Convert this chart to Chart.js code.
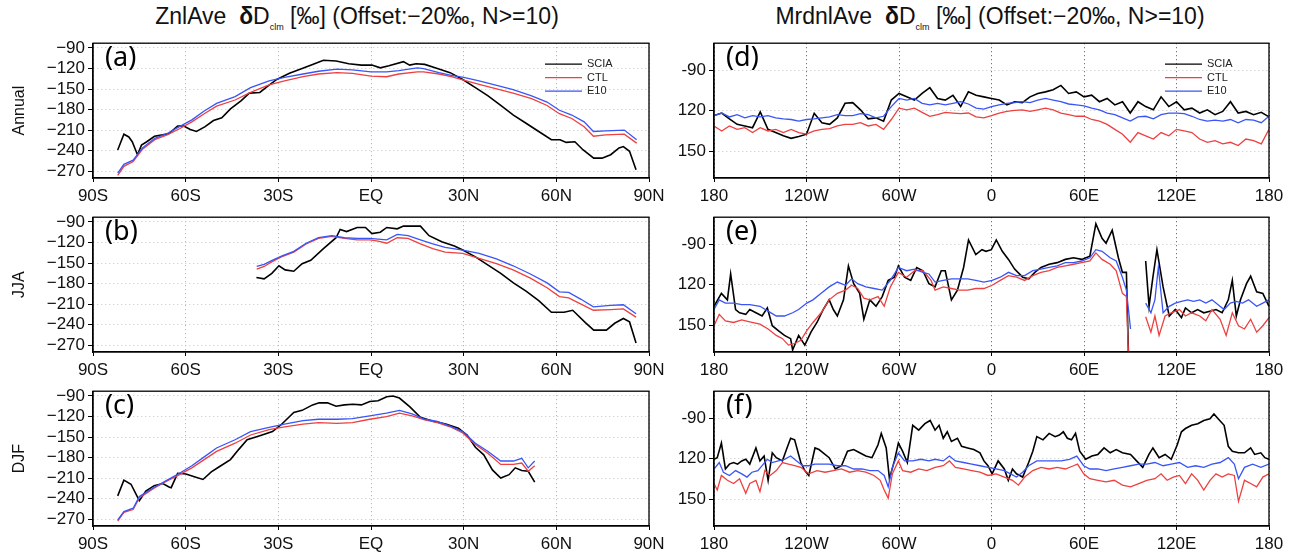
<!DOCTYPE html>
<html>
<head>
<meta charset="utf-8">
<script src="https://cdn.jsdelivr.net/npm/chart.js@4.4.1/dist/chart.umd.min.js"></script>
<style>
  body { margin: 0; background: #fff; width: 1296px; height: 555px; position: relative; overflow: hidden; }
  canvas { position: absolute; }
  .ttl { position: absolute; top: 3px; font: 23px 'Liberation Sans', sans-serif; white-space: nowrap; transform: translateX(-50%); color: #111; }
  .ttl sub { font-size: 9px; }
</style>
</head>
<body>
<div class="ttl" style="left:357px">ZnlAve&nbsp; <b>δ</b>D<sub>clm</sub> [‰] (Offset:−20‰, N&gt;=10)</div>
<div class="ttl" style="left:990px">MrdnlAve&nbsp; <b>δ</b>D<sub>clm</sub> [‰] (Offset:−20‰, N&gt;=10)</div>

<canvas id="pa" width="670" height="175" style="left:0;top:30px"></canvas>
<canvas id="pb" width="670" height="175" style="left:0;top:204px"></canvas>
<canvas id="pc" width="670" height="175" style="left:0;top:378px"></canvas>
<canvas id="pd" width="646" height="175" style="left:650px;top:30px"></canvas>
<canvas id="pe" width="646" height="175" style="left:650px;top:204px"></canvas>
<canvas id="pf" width="646" height="175" style="left:650px;top:378px"></canvas>

<script>
// ---- axis ticks / labels ----
const xTicksLeft  = [-90, -60, -30, 0, 30, 60, 90];
const xLabelsLeft = ['90S', '60S', '30S', 'EQ', '30N', '60N', '90N'];
const yTicksLeft  = [-90, -120, -150, -180, -210, -240, -270];
const yLabelsLeft = ['−90', '−120', '−150', '−180', '−210', '−240', '−270'];

const xTicksRight  = [-180, -120, -60, 0, 60, 120, 180];
const xLabelsRight = ['180', '120W', '60W', '0', '60E', '120E', '180'];
const yTicksRight  = [-90, -120, -150];
const yLabelsRight = ['-90', '120', '150'];

// ---- (a) zonal mean, annual ----
const latSciaA = [-82,-80,-78.4,-77.3,-75.6,-74.3,-72.6,-70.1,-67.4,-65.4,-62.6,-60.6,-58.5,-56.5,-53.7,-51,-48.3,-45.5,-42,-39.4,-36,-33.2,-30.5,-26.4,-22.3,-18.9,-15.4,-11.3,-7.2,-3.1,0.3,3,5.8,10.5,12.5,14.6,17.4,21.5,25.6,29.7,33.8,37.9,42,46.1,50.2,54.3,58.4,61.2,63.2,66,68.7,72.1,74.8,77.6,80.3,81.7,83.7,85.8];
const sciaA = [-239,-216,-220,-227,-246,-232,-227,-219,-217,-215,-204,-204,-209,-212,-205,-196,-192,-179,-167,-156,-155,-145,-136,-127,-120,-114,-108,-109,-113,-115,-115,-119,-116,-110,-115,-113,-114,-120,-126,-136,-148,-160,-174,-188,-200,-212,-224,-224,-228,-227,-239,-251,-251,-246,-236,-234,-241,-268];
const latModA = [-82,-80,-77,-74,-70,-66,-62,-58,-54,-50,-44,-39,-33,-28,-22,-17,-11,-6,0,5,9,15,17,22,26,30,35,41,46,52,57,61,65,69,72,76,82,86];
const ctlA = [-276,-263,-256,-238,-224,-217,-208,-198,-186,-175,-166,-155,-144,-138,-132,-128,-126,-127,-131,-132,-128,-125,-125,-128,-132,-137,-143,-150,-156,-164,-174,-186,-193,-205,-219,-217,-216,-229];
const e10A = [-273,-260,-254,-236,-222,-215,-205,-195,-182,-171,-161,-148,-138,-133,-128,-124,-121,-122,-125,-125,-123,-119,-120,-126,-130,-133,-138,-145,-151,-160,-169,-181,-188,-198,-212,-211,-210,-224];

// ---- (b) zonal mean, JJA ----
const latSciaB = [-37.1,-34.6,-32.1,-29.8,-27.8,-25,-22.3,-19.5,-15.4,-11.3,-10,-7.9,-4.5,-1.8,0.3,3,5.1,8.5,10.5,14.6,16,18.8,22.9,27,29.7,33.8,37.9,42,46.1,50.2,54.3,58.4,62.5,65.3,69.4,72.1,76.2,78.9,81.7,83.7,85.8];
const sciaB = [-171,-173,-165,-154,-160,-162,-151,-146,-129,-113,-101,-104,-98,-98,-107,-105,-98,-100,-96,-96,-96,-110,-119,-125,-131,-141,-153,-165,-179,-191,-205,-222,-222,-219,-237,-248,-248,-238,-231,-236,-267];
const latModB = [-37,-34.6,-32,-29,-25,-21,-17,-12.7,-8.6,-4.5,-0.4,2.3,5.1,8.5,12,16,20,24,29.7,35,40.6,46,51.6,57,61,64,68,72,77.6,81.7,85.8];
const ctlB = [-159,-155,-148,-141,-134,-122,-114,-111,-114,-116,-116,-118,-121,-113,-114,-122,-129,-134,-136,-143,-151,-160,-172,-186,-199,-201,-210,-219,-218,-217,-229];
const e10B = [-155,-152,-146,-140,-133,-121,-113,-110,-113,-114,-114,-115,-116,-108,-110,-116,-122,-127,-131,-136,-144,-154,-166,-179,-192,-193,-203,-214,-212,-211,-224];

// ---- (c) zonal mean, DJF ----
const latSciaC = [-82,-80,-77.7,-75,-72.9,-70.2,-67.4,-65.4,-64.7,-62.6,-59.9,-57.2,-54.4,-51.7,-49,-45.5,-42.8,-40.1,-36,-31.9,-29.1,-25,-22.3,-18.9,-16.8,-14.1,-11.3,-8.6,-5.9,-3.1,-0.4,2.3,5.1,7.1,9.2,12.6,16,20.1,24.2,28.3,31.1,33.8,36.5,39.3,42,44.7,46.7,48.8,50.9,53];
const sciaC = [-236,-213,-219,-243,-229,-221,-218,-223,-224,-203,-204,-208,-212,-201,-193,-183,-168,-154,-148,-142,-132,-114,-111,-103,-100,-100,-105,-103,-102,-103,-98,-97,-91,-90,-93,-106,-121,-127,-131,-137,-147,-165,-176,-198,-210,-205,-195,-199,-200,-216];
const latModC = [-82,-80,-77,-75,-70,-66,-62,-58,-54,-50,-44,-39,-33,-28,-22,-17,-11,-6,-0.4,5,9.2,13.3,17.4,21.5,25.6,29.7,33.8,37.9,42,46.1,48.8,50.9,53];
const ctlC = [-273,-260,-256,-239,-224,-214,-205,-195,-183,-171,-159,-147,-139,-135,-131,-129,-130,-129,-124,-120,-115,-119,-125,-129,-135,-144,-161,-174,-190,-190,-188,-200,-192];
const e10C = [-271,-259,-254,-237,-223,-213,-203,-192,-179,-166,-154,-142,-136,-131,-126,-124,-124,-123,-119,-115,-111,-116,-124,-127,-134,-142,-159,-171,-185,-185,-181,-195,-185];

// ---- (d) meridional mean, annual ----
const lonD = [-180,-175,-170,-165,-160,-155,-150,-145,-140,-135,-130,-125,-120,-115,-110,-105,-100,-95,-90,-85,-80,-75,-70,-65,-60,-55,-50,-45,-40,-35,-30,-25,-20,-15,-10,-5,0,5,10,15,20,25,30,35,40,45,50,55,60,65,70,75,80,85,90,95,100,105,110,115,120,125,130,135,140,145,150,155,160,165,170,175,180];
const sciaD = [-123.7,-121.8,-126.1,-130.2,-131.4,-132.7,-121,-133.9,-136.3,-138.7,-140.6,-139.2,-137.5,-122,-129,-130.2,-125.4,-114.6,-114.1,-119.4,-126.1,-125.4,-127.8,-112.2,-107.3,-109.8,-112.2,-107.3,-103,-111,-112.2,-108.6,-117,-106.1,-108.6,-109.8,-111,-112.2,-115.8,-113.4,-114.1,-109.8,-107.3,-106.1,-104.5,-101.3,-107.3,-106.1,-109.8,-108.6,-113.4,-111,-115.8,-113.4,-121.8,-113.4,-117,-119.4,-109.8,-117,-113.4,-119.4,-118.2,-121.8,-119.4,-123,-120.6,-113.4,-121.8,-120.6,-123,-121.3,-124.7];
const ctlD = [-131.4,-135.1,-131.4,-133.9,-132.7,-136.3,-132.7,-135.1,-133.9,-136.3,-133.9,-136.3,-137.5,-135.1,-133.9,-133.4,-131.4,-130.2,-130.2,-129,-131.4,-130.2,-133.9,-126.6,-118.2,-119.4,-118.2,-121.3,-124.2,-123,-121.3,-121.8,-122.3,-121.8,-124.7,-125.4,-123.7,-121.8,-120.6,-119.9,-119.4,-120.6,-119.4,-118.2,-119.4,-121.8,-123,-124.2,-124.2,-126.6,-127.8,-130.2,-133.9,-137.5,-143.5,-136.3,-138.7,-141.1,-136.3,-138.7,-133.9,-135.1,-136.3,-141.1,-143.5,-142.3,-144.7,-143.5,-145.9,-141.1,-142.3,-144.7,-133.9];
const e10D = [-123.7,-121.8,-124.7,-123,-125.4,-123.7,-124.7,-123.7,-125.4,-126.1,-126.6,-127.8,-126.6,-126.1,-125.4,-124.7,-123,-123.7,-123.7,-122.3,-123,-125.4,-124.2,-117,-111,-112.2,-111,-114.6,-115.8,-114.6,-115.8,-114.6,-113.4,-115.1,-118.2,-118.9,-117,-115.8,-114.6,-114.1,-113.4,-114.1,-112.2,-111,-112.2,-113.4,-115.1,-115.8,-116.5,-118.2,-119.4,-121.8,-123,-125.4,-127.8,-124.7,-124.2,-126.1,-123,-121.8,-121.8,-122.3,-124.2,-126.6,-127.8,-127.1,-127.8,-126.6,-129,-126.6,-127.1,-129,-124.2];

// ---- (e) meridional mean, JJA (null = no data) ----
const lonSciaE = [-180,-175.2,-171.3,-169.2,-166,-163.4,-159.4,-156.8,-152.8,-148.8,-145.4,-142.2,-138.3,-134.3,-130.3,-129,-125.1,-121.1,-117.1,-113.2,-109.2,-105.3,-102.6,-100,-96,-92.8,-89.4,-85.5,-82.8,-78.9,-74.9,-70.9,-67,-63,-60.4,-56.4,-52.4,-48.5,-44.5,-40.6,-36.6,-32.6,-30,-26,-22.1,-18.1,-14.9,-10.2,-6.2,-3.6,-0.1,3.1,7,11,15,20.2,24.2,28.1,32.1,37.4,42.6,47.9,53.2,58.5,63.8,67.7,71.7,74.3,78.3,82.3,84.9,87.5,88.9,94,100,102.2,104.7,107.3,111.3,115.3,119.2,123.2,125.8,129.8,133.7,137.7,141.7,145.6,149.6,153.6,156.2,158.8,161.5,165.4,168.1,172,176,180];
const sciaE = [-136.1,-126.5,-131.3,-112.1,-138.5,-140.9,-142.1,-138.5,-140.9,-143.3,-137.3,-150.5,-154.1,-157.7,-160.1,-168.5,-157.7,-164.9,-155.3,-148.1,-138.5,-131.3,-138.5,-143.3,-131.3,-106.1,-119.3,-126.5,-145.7,-131.3,-136.1,-128.9,-116.9,-114.5,-106.1,-114.5,-116.9,-107.3,-109.7,-119.3,-121.7,-109.7,-109.7,-131.3,-124.1,-107.3,-86.9,-97.7,-94.1,-95.3,-94.1,-86.9,-95.3,-101.3,-108.5,-114.5,-115.7,-110.9,-107.3,-104.9,-103.7,-101.3,-100.1,-101.3,-98.9,-74.9,-85.7,-89.3,-79.7,-100.1,-110.9,-110.9,-174.5,null,-102.5,-136.1,-114.5,-94.1,-121.7,-143.3,-138.5,-144.5,-137.3,-140.9,-138.5,-140.9,-139.7,-138.5,-140.9,-131.3,-116.9,-143.3,-131.3,-119.3,-113.8,-125.3,-126.5,-136.1];
const lonCtlE = [-180,-176.6,-172.6,-167.3,-162,-156.8,-150.2,-144.9,-139.6,-135.6,-131.7,-127.7,-123.7,-119.8,-115.8,-110.5,-105.3,-100,-94.7,-90.7,-86.8,-82.8,-78.9,-73.6,-69.6,-65.6,-60.4,-55.1,-49.8,-44.5,-39.2,-36.6,-31.3,-26,-20.7,-15.4,-10.2,-4.9,0.4,5.7,11,16.2,21.5,26.8,32.1,37.4,42.6,47.9,53.2,58.5,63.8,67.7,71.7,77,80.9,84.9,87.5,88.9,94,100,103.4,106,108.7,112.6,116.6,121.9,125.8,129.8,135.1,139,143,148.3,152.2,156.2,160.2,164.1,168.1,172,176,180];
const ctlE = [-150.5,-142.1,-146.9,-148.1,-146.2,-147.6,-149.3,-152.9,-157.7,-160.1,-164.9,-163.7,-161.3,-154.1,-148.1,-140.9,-131.3,-126.5,-124.1,-120.5,-122.9,-130.1,-131.3,-128.9,-136.1,-121.7,-110.9,-114.5,-109.7,-109.7,-116.9,-124.1,-121.7,-122.9,-124.1,-124.1,-122.9,-122.9,-120.5,-116.9,-113.3,-114.5,-116.9,-113.3,-110.9,-109.7,-107.3,-106.1,-104.9,-103.7,-102.5,-96.5,-101.3,-104.9,-109.7,-126.5,-128.9,-174.5,null,-143.8,-155.3,-143.3,-157.7,-143.3,-140.9,-138.5,-143.3,-140.9,-143.3,-146.9,-138.5,-145.7,-157.7,-140.9,-150.5,-152.9,-145.7,-155.3,-150.5,-144.5];
const lonE10E = [-180,-176.6,-172.6,-167.3,-162,-156.8,-150.2,-144.9,-139.6,-134.3,-129,-125.1,-119.8,-115.8,-110.5,-105.3,-100,-94.7,-90.7,-86.8,-81.5,-76.2,-70.9,-65.6,-60.4,-55.1,-49.8,-44.5,-40.6,-36.6,-31.3,-26,-20.7,-15.4,-10.2,-4.9,0.4,5.7,11,16.2,21.5,26.8,32.1,37.4,42.6,47.9,53.2,58.5,63.8,67.7,71.7,77,80.9,84.9,87.5,90.2,95,100,103.4,106,108.2,111.3,115.3,119.2,123.2,127.2,131.1,135.1,139,143,147,150.9,154.9,158.8,162.8,166.7,172,176,180];
const e10E = [-138.5,-131.3,-133.7,-133.7,-134.9,-134.9,-136.1,-139.7,-143.3,-143.3,-140.9,-138.5,-133.7,-131.3,-126.5,-121.7,-118.1,-120.5,-115.7,-119.3,-121.7,-122.9,-124.1,-116.9,-107.3,-109.7,-108.5,-110.9,-112.1,-118.1,-116.9,-115.7,-115.7,-115.7,-116.9,-118.1,-116.9,-114.5,-110.9,-113.3,-113.3,-109.7,-108.5,-107.3,-106.1,-103.7,-103.7,-102.5,-100.1,-94.1,-95.3,-100.1,-102.5,-114.5,-124.1,-152.9,null,-133.7,-140.9,-131.3,-107.3,-140.9,-136.1,-133.7,-132.5,-131.3,-132.5,-131.3,-133.7,-131.3,-134.9,-138.5,-133.7,-132.5,-133.7,-131.3,-136.1,-133.7,-131.3];

// ---- (f) meridional mean, DJF ----
const lonSciaF = [-180,-177.9,-175.2,-172.6,-170,-167.3,-164.7,-162,-159.4,-156.8,-152.8,-150.2,-147.5,-144.9,-142.2,-139.6,-135.6,-133,-130.3,-127.7,-123.7,-121.1,-118.5,-114.5,-111.9,-109.2,-105.3,-101.3,-97.3,-93.4,-89.4,-85.5,-81.5,-77.5,-73.6,-71.5,-68.3,-66.2,-63,-60.4,-57.7,-54.6,-51.1,-47.2,-43.2,-39.8,-36.6,-34,-31.3,-28.7,-26,-22.1,-19.4,-15.5,-11.5,-7.5,-4.9,-2.3,0.4,4.3,8.3,10.9,13.6,16.2,20.2,24.1,26.8,29.4,33.4,37.4,41.3,44,46.6,49.2,51.9,54.5,57.2,61.1,65.1,69,73,77,80.9,84.9,90.2,94.1,98.1,102.1,104.7,108.7,112.6,116.6,120.5,123.2,125.8,129.8,133.8,137.7,141.7,144.3,147,150.9,153.6,156.2,160.2,164.1,168.1,170.7,174.7,177.3,180];
const sciaF = [-120.5,-119.3,-108.5,-127.7,-124.1,-122.9,-124.1,-121.7,-120.5,-124.1,-112.1,-121.7,-118.1,-136.1,-115.7,-119.3,-121.7,-113.3,-104.9,-106.1,-122.9,-128.9,-132.5,-112.1,-113.3,-115.7,-119.3,-127.7,-125.3,-114.5,-113.3,-115.7,-118.1,-119.3,-109.7,-101.3,-112.1,-134.9,-121.7,-108.5,-114.5,-122.9,-95.3,-98.9,-94.1,-91.7,-98.9,-95.3,-104.9,-100.1,-107.3,-104.9,-110.9,-112.1,-113.3,-115.7,-121.7,-125.3,-131.3,-121.7,-127.7,-136.1,-127.7,-131.3,-133.7,-122.9,-114.5,-103.7,-106.1,-101.3,-103.7,-102.5,-100.1,-104.9,-106.1,-101.3,-114.5,-120.5,-118.1,-116.9,-112.1,-115.7,-113.3,-115.7,-116.9,-121.7,-126.5,-116.9,-112.1,-119.3,-116.9,-120.5,-109.7,-100.1,-97.7,-95.3,-94.1,-91.7,-90.5,-86.9,-90.5,-95.3,-110.9,-114.5,-115.7,-115.7,-112.1,-116.9,-115.7,-119.3,-120.5];
const lonCtlF = [-180,-177.9,-175.2,-171.3,-167.3,-163.4,-159.4,-156.8,-152.8,-150.2,-147,-143.6,-139.6,-135.6,-131.7,-127.7,-123.7,-118.5,-113.2,-107.9,-102.6,-97.3,-92.1,-86.8,-81.5,-76.2,-72.2,-69.6,-67,-64.3,-60.4,-57.7,-52.4,-47.2,-41.9,-36.6,-31.3,-27.3,-23.4,-18.1,-12.8,-7.5,-2.3,3,8.3,13.6,17.5,21.5,26.8,32.1,37.4,42.6,47.9,53.2,55.8,59.8,63.8,69,74.3,79.6,84.9,90.2,95.5,100.7,106,110,113.9,117.9,121.9,125.8,129.8,133.8,137.7,141.7,145.6,149.6,153.6,157.5,160.2,164.1,168.1,172,176,180];
const ctlF = [-138.5,-143.3,-132.5,-136.1,-138.5,-134.9,-145.7,-138.5,-136.1,-144.5,-128.9,-132.5,-128.9,-122.9,-124.1,-125.3,-126.5,-131.3,-128.9,-130.1,-128.9,-127.7,-130.1,-128.9,-130.1,-132.5,-136.1,-143.3,-149.3,-131.3,-121.7,-128.9,-130.1,-127.7,-128.9,-126.5,-125.3,-121.7,-126.5,-127.7,-128.9,-130.1,-132.5,-131.3,-133.7,-136.1,-139.7,-133.7,-128.9,-126.5,-127.7,-126.5,-127.7,-125.3,-124.1,-131.3,-134.9,-136.1,-137.3,-136.1,-139.7,-140.9,-138.5,-136.1,-134.9,-131.3,-136.1,-133.7,-132.5,-138.5,-131.3,-136.1,-143.3,-136.1,-131.3,-133.7,-131.3,-132.5,-151.7,-136.1,-138.5,-140.9,-133.7,-131.3];
const lonE10F = [-180,-176.6,-173.9,-170,-166,-162,-158.6,-155.4,-151.5,-148,-145.4,-142.2,-138.3,-134.3,-130.3,-126.4,-122.4,-118.5,-114.5,-110.5,-105.3,-100,-94.7,-89.4,-84.1,-78.9,-73.6,-69.6,-67,-64.3,-60.4,-56.4,-51.1,-45.8,-40.6,-36.6,-31.3,-27.3,-23.4,-18.1,-12.8,-7.5,-2.3,3,8.3,12.3,16.2,20.2,24.1,29.4,34.7,40,45.3,50.6,55.3,59.8,63.8,69,74.3,79.6,84.9,90.2,95.5,100.7,106,111.3,116.6,121.9,127.2,132.4,137.7,143,148.3,153.6,157.5,160.2,164.1,169.4,174.7,180];
const e10F = [-127.7,-122.9,-130.1,-132.5,-128.9,-131.3,-133.7,-130.1,-128.9,-124.1,-120.5,-122.9,-121.7,-120.5,-118.1,-121.7,-125.3,-125.3,-124.1,-124.1,-124.1,-125.3,-125.3,-127.7,-127.7,-128.9,-128.9,-132.5,-140.9,-126.5,-115.7,-121.7,-121.7,-120.5,-121.7,-120.5,-121.7,-118.1,-121.7,-122.9,-124.1,-125.3,-126.5,-127.7,-128.9,-131.3,-133.7,-130.1,-125.3,-121.7,-121.7,-121.7,-121.7,-120.5,-118.1,-125.3,-127.7,-127.7,-128.9,-127.7,-126.5,-125.3,-124.1,-124.1,-122.9,-125.3,-124.1,-122.9,-126.5,-125.3,-126.5,-124.1,-122.9,-119.3,-124.1,-134.9,-126.5,-124.1,-126.5,-124.1];

const seriesNames  = ['SCIA', 'CTL', 'E10'];
const seriesColors = ['#000000', '#ee4040', '#3a55f5'];

Chart.defaults.font.family = "'Liberation Sans', sans-serif";
Chart.defaults.color = '#111';

function pts(xs, ys) {
  return xs.map((x, i) => ({ x: x, y: ys[i] }));
}

// box outline, panel letter and the small legend
const panelDeco = {
  id: 'panelDeco',
  afterDraw(chart, args, opts) {
    const ctx = chart.ctx, a = chart.chartArea;
    ctx.save();
    ctx.setLineDash([]);
    ctx.strokeStyle = '#000';
    ctx.lineWidth = 1.3;
    ctx.strokeRect(a.left, a.top, a.right - a.left, a.bottom - a.top);

    ctx.fillStyle = '#000';
    ctx.font = "27px 'Noto Sans', sans-serif";
    ctx.textBaseline = 'top';
    ctx.fillText(opts.letter, a.left + 12, a.top + 2);

    if (opts.legend) {
      ctx.font = "11px 'Liberation Sans', sans-serif";
      ctx.textBaseline = 'middle';
      chart.data.datasets.forEach((ds, i) => {
        const y = a.top + 21 + i * 13.5;
        ctx.strokeStyle = ds.borderColor;
        ctx.lineWidth = 1.2;
        ctx.beginPath();
        ctx.moveTo(a.right - 104, y);
        ctx.lineTo(a.right - 67, y);
        ctx.stroke();
        ctx.fillStyle = '#222';
        ctx.fillText(ds.label, a.right - 62, y);
      });
    }
    ctx.restore();
  }
};

function makePanel(id, cfg) {
  const left = cfg.side === 'left';
  const xT = left ? xTicksLeft : xTicksRight;
  const xL = left ? xLabelsLeft : xLabelsRight;
  const yT = left ? yTicksLeft : yTicksRight;
  const yL = left ? yLabelsLeft : yLabelsRight;

  const datasets = cfg.series.map((s, i) => ({
    label: seriesNames[i],
    data: pts(s[0], s[1]),
    borderColor: seriesColors[i],
    borderWidth: i === 0 ? 1.6 : 1.3,
    pointRadius: 0,
    tension: 0,
    spanGaps: false,
    order: 3 - i          // E10 on top, SCIA at the back
  }));

  return new Chart(document.getElementById(id), {
    type: 'line',
    data: { datasets: datasets },
    options: {
      responsive: false,
      animation: false,
      devicePixelRatio: 1,
      layout: { padding: { top: 11, right: left ? 21 : 27, left: 0, bottom: 0 } },
      scales: {
        x: {
          type: 'linear',
          min: xT[0], max: xT[xT.length - 1],
          afterBuildTicks: axis => { axis.ticks = xT.map(v => ({ value: v })); },
          afterFit: axis => { axis.height = 27; },
          ticks: {
            font: { size: 17 }, color: '#111', padding: 4, maxRotation: 0, autoSkip: false,
            callback: (v, i) => xL[i]
          },
          grid: {
            color: left ? '#a8a8a8' : '#555',
            lineWidth: 1,
            tickLength: 4, tickColor: '#000', tickBorderDash: [], tickWidth: 1
          },
          border: { display: true, color: '#000', width: 1.3, dash: [1, 3] }
        },
        y: {
          min: cfg.ymin, max: cfg.ymax,
          afterBuildTicks: axis => { axis.ticks = yT.map(v => ({ value: v })); },
          afterFit: axis => { axis.width = left ? 93 : 64; },
          ticks: {
            font: { size: 17 }, color: '#111', padding: 3, autoSkip: false,
            callback: (v, i) => yL[i]
          },
          title: {
            display: !!cfg.ytitle, text: cfg.ytitle || '',
            font: { size: 16 }, color: '#111', padding: { top: 10, bottom: 0 }
          },
          grid: {
            color: '#c4c4c4',
            lineWidth: 1,
            tickLength: 5, tickColor: '#000', tickBorderDash: [], tickWidth: 1
          },
          border: { display: true, color: '#000', width: 1.3, dash: [1, 3] }
        }
      },
      plugins: {
        legend: { display: false },
        tooltip: { enabled: false },
        panelDeco: { letter: cfg.letter, legend: !!cfg.legend }
      }
    },
    plugins: [panelDeco]
  });
}

makePanel('pa', { side: 'left', letter: '(a)', ytitle: 'Annual', legend: true, ymin: -280, ymax: -83,
  series: [[latSciaA, sciaA], [latModA, ctlA], [latModA, e10A]] });
makePanel('pb', { side: 'left', letter: '(b)', ytitle: 'JJA', ymin: -280, ymax: -83,
  series: [[latSciaB, sciaB], [latModB, ctlB], [latModB, e10B]] });
makePanel('pc', { side: 'left', letter: '(c)', ytitle: 'DJF', ymin: -280, ymax: -83,
  series: [[latSciaC, sciaC], [latModC, ctlC], [latModC, e10C]] });

makePanel('pd', { side: 'right', letter: '(d)', legend: true, ymin: -170, ymax: -70,
  series: [[lonD, sciaD], [lonD, ctlD], [lonD, e10D]] });
makePanel('pe', { side: 'right', letter: '(e)', ymin: -170, ymax: -70,
  series: [[lonSciaE, sciaE], [lonCtlE, ctlE], [lonE10E, e10E]] });
makePanel('pf', { side: 'right', letter: '(f)', ymin: -170, ymax: -70,
  series: [[lonSciaF, sciaF], [lonCtlF, ctlF], [lonE10F, e10F]] });
</script>
</body>
</html>
